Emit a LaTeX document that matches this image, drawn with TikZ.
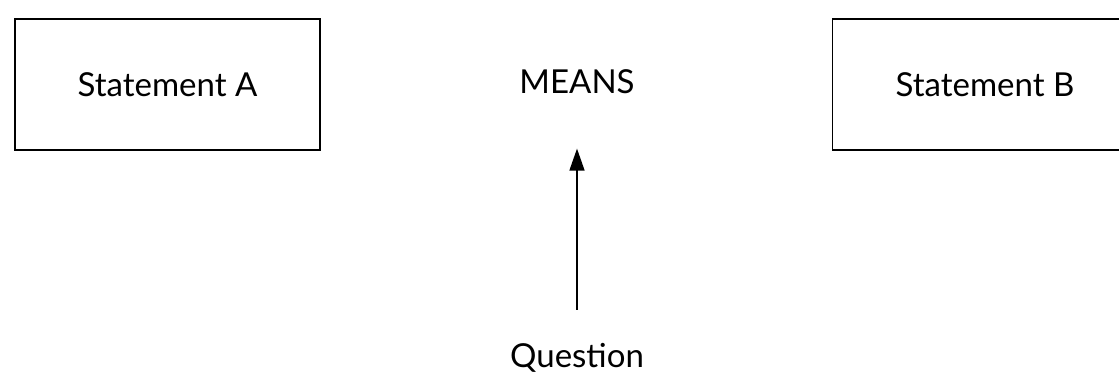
\documentclass[tikz,border=0pt]{standalone}
\usepackage{fontspec}
\setmainfont{Lato}
\usepackage{tikz}
\usetikzlibrary{arrows.meta,positioning}

\begin{document}
\begin{tikzpicture}[x=1pt, y=-1pt,
  box/.style={draw, line width=1.6pt, minimum width=305pt, minimum height=131pt, font=\fontsize{33}{38}\selectfont},
  lbl/.style={font=\fontsize{33}{38}\selectfont},
  arr/.style={-{Triangle[length=22pt, width=15pt]}, line width=1.6pt}
]
\useasboundingbox (0,0) rectangle (1119,381);
\fill[white] (0,0) rectangle (1119,381);

\node[box] (stmtA) at (167.5,84.5) {Statement A};
\node[lbl] (means) at (577,82) {MEANS};
\node[box] (stmtB) at (985,84.5) {Statement B};
\node[lbl] (question) at (577,358) {Question};

\draw[arr, shorten <=30pt, shorten >=51pt] (question) -- (means);
\end{tikzpicture}
\end{document}
